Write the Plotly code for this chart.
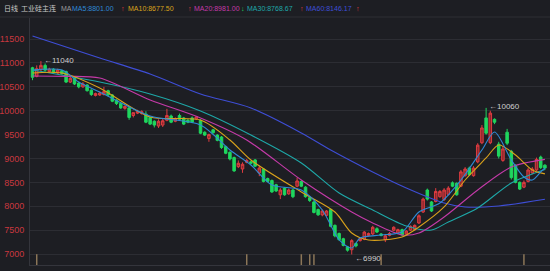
import plotly.graph_objects as go

# ---- candle data (daily, 工业硅主连) ----
opens = [10900,10720,10860,10950,10820,10870,10790,10840,10820,10600,10690,10580,10500,10540,10430,10320,10330,10340,10420,10330,
         10220,10150,10050,10060,9900,9950,9940,9930,9860,9780,9680,9700,9800,9890,9780,9900,9850,9800,9850,9830,
         9800,9550,9420,9600,9490,9450,9250,9130,9020,8830,8780,8920,8930,8970,8700,8780,8580,8540,8450,8240,
         8380,8260,8340,8420,8520,8400,8180,8090,7930,7820,7810,7930,7600,7430,7320,7150,7090,7220,7280,7310,
         7390,7420,7530,7420,7300,7390,7500,7440,7510,7420,7500,7510,7650,7880,8340,8090,8100,8200,8140,8250,
         8490,8480,8420,8640,8800,8640,8930,9330,9850,9330,9820,9300,8960,9550,9150,8850,8500,8400,8520,8700,
         8760,9030,8860]
closes = [10700,10880,10950,10850,10870,10800,10850,10780,10600,10680,10560,10500,10560,10420,10340,10360,10370,10400,10330,10200,
          10150,10060,10090,9860,9960,9990,9980,9760,9720,9700,9780,9790,9900,9760,9830,9820,9720,9760,9760,9870,
          9530,9490,9500,9540,9380,9230,9110,8990,8740,8900,8880,8960,8900,8840,8800,8520,8520,8300,8320,8340,
          8240,8340,8200,8530,8420,8200,8120,7870,7820,7900,7900,7580,7380,7300,7180,7080,7280,7170,7320,7460,
          7430,7560,7460,7390,7380,7430,7560,7510,7400,7480,7580,7600,7800,8150,8150,7900,8310,8310,8340,8380,
          8420,8240,8720,8780,8660,8800,9280,9640,9530,9950,9760,9050,9200,9320,8600,8500,8360,8500,8760,8780,
          8980,8810,8800]
highs = [10920,10950,11040,10990,10900,10890,10880,10860,10840,10720,10720,10610,10600,10560,10450,10380,10400,10500,10440,10350,
         10240,10180,10110,10080,9960,10020,10010,9990,9880,9800,9820,9830,10040,9920,9860,9940,9870,9830,9880,9890,
         9820,9570,9520,9620,9510,9470,9270,9150,9040,8960,8920,8990,8950,8990,8840,8800,8600,8560,8470,8380,
         8400,8370,8360,8600,8540,8420,8200,8110,7950,7930,7920,7950,7620,7450,7340,7170,7310,7240,7340,7480,
         7450,7590,7560,7440,7420,7460,7580,7530,7530,7500,7600,7620,7830,8180,8370,8110,8380,8340,8380,8420,
         8520,8500,8760,8820,8830,8840,9320,9700,10060,10000,9840,9350,9260,9620,9180,8880,8520,8540,8800,8820,
         9020,9060,8880]
lows = [10640,10700,10830,10820,10790,10770,10770,10750,10580,10580,10540,10470,10480,10400,10310,10300,10310,10320,10300,10180,
        10120,10040,10020,9810,9860,9930,9920,9740,9700,9650,9640,9660,9780,9740,9760,9790,9700,9740,9740,9810,
        9510,9470,9350,9520,9360,9200,9090,8960,8720,8800,8700,8900,8880,8820,8630,8500,8500,8280,8300,8150,
        8220,8240,8170,8400,8400,8180,8090,7850,7800,7790,7790,7560,7350,7280,7160,7050,6990,7140,7260,7290,
        7370,7400,7440,7370,7250,7370,7480,7420,7380,7400,7480,7490,7630,7860,8120,7880,8080,8180,8110,8230,
        8400,8220,8400,8620,8640,8620,8900,9300,9500,9300,9720,9000,8930,9280,8560,8480,8340,8380,8500,8670,
        8740,8780,8760]
days = list(range(len(closes)))

# ---- moving averages (sampled at candle indices) ----
ma5_idx = [0,7,11,16,28,40,47,52,57,64,69,73,76,78,83,88,92,97,102,107,110,114,117,119,121,122]
ma5_val = [10853,10853,10602,10393,9890,9702,9178,8864,8445,8341,7922,7294,7126,7336,7398,7461,7880,8069,8550,9178,9555,8969,8613,8550,8718,8801]
ma10_idx = [0,7,16,28,40,47,52,64,72,76,80,88,92,98,103,108,111,115,119,122]
ma10_val = [10791,10791,10477,9870,9806,9388,8969,8299,7880,7440,7294,7356,7566,7985,8550,9011,9283,9074,8759,8677.5]
ma20_idx = [0,8,16,28,40,51,64,76,81,88,92,98,106,114,122]
ma20_val = [10728,10720,10686,10225,9848,9388,8550,7880,7650,7398,7440,7775,8341,8822,8981]
ma30_idx = [0,16,28,40,52,64,73,81,89,95,99,106,114,122]
ma30_val = [10853,10602,10351,9995,9492,8906,8278,7922,7587,7503,7671,7964,8487,8768.67]
ma60_idx = [0,16,28,40,52,64,71,81,89,98,103,111,122]
ma60_val = [11565,11105,10770,10351,10058,9534,9178,8718,8383,8068,7985,8006,8146.17]

event_idx = [1, 51, 64, 66, 67, 83, 117]

y_ticks = [7000, 7500, 8000, 8500, 9000, 9500, 10000, 10500, 11000, 11500]

BG = "#1d1e23"
GRID = "#2c2d33"
RED = "#e03c40"
GREEN = "#1fd65e"
C5, C10, C20, C30, C60 = "#2f8ad6", "#d9a21b", "#c43aa8", "#1ea8a8", "#3e4ed6"

fig = go.Figure()
fig.add_trace(go.Candlestick(
    x=days, open=opens, high=highs, low=lows, close=closes,
    increasing=dict(line=dict(color=RED, width=1), fillcolor="#8a282d"),
    decreasing=dict(line=dict(color=GREEN, width=1), fillcolor=GREEN),
    whiskerwidth=0, showlegend=False, hoverinfo="skip"))

for idx, val, col in [(ma60_idx, ma60_val, C60), (ma30_idx, ma30_val, C30), (ma20_idx, ma20_val, C20),
                      (ma10_idx, ma10_val, C10), (ma5_idx, ma5_val, C5)]:
    fig.add_trace(go.Scatter(x=idx, y=val, mode="lines", line=dict(color=col, width=1.1, shape="spline", smoothing=0.8),
                             showlegend=False, hoverinfo="skip"))

EVENT_Y = 6864
fig.add_trace(go.Scatter(x=event_idx, y=[EVENT_Y]*len(event_idx), mode="markers",
                         marker=dict(symbol="line-ns", size=9, line=dict(color="#8c7658", width=1.5)),
                         showlegend=False, hoverinfo="skip"))

# high / low labels
hi_i = highs.index(max(highs))
lo_i = lows.index(min(lows))
peak2 = 108
ann = []
for i, v, ys in [(hi_i, highs[hi_i], 1), (peak2, highs[peak2], 1), (lo_i, lows[lo_i], -4)]:
    ann.append(dict(x=i, y=v, xref="x", yref="y", text="←" + str(v), showarrow=False, xanchor="left",
                    yanchor="middle", xshift=1, yshift=ys, font=dict(size=8, color="#cfcfcf", family="Liberation Sans")))

# header
def px(xp):
    return (xp - 30) / 520.0
HY = (265 - 8) / 247.0
header = [(2, "日线", "#c8c8c8"), (19, "工业硅主连", "#c8c8c8"), (59, "MA", "#9a9a9a"),
          (70, "MA5:8801.00", C5), (119, "↑", RED), (126, "MA10:8677.50", C10), (186, "↑", RED),
          (192, "MA20:8981.00", C20), (239, "↓", GREEN), (245, "MA30:8768.67", C30), (298, "↑", RED),
          (304, "MA60:8146.17", C60), (354, "↑", RED)]
for xp, t, c in header:
    ann.append(dict(x=px(xp), y=HY, xref="paper", yref="paper", text=t, showarrow=False, xanchor="left",
                    yanchor="middle", xshift=0,
                    font=dict(size=7, color=c, family="Liberation Sans, Noto Sans CJK SC")))

fig.update_layout(
    width=550, height=271, margin=dict(l=30, r=0, t=18, b=6),
    paper_bgcolor=BG, plot_bgcolor=BG,
    boxgap=0.15,
    annotations=ann,
    shapes=[dict(type="line", xref="paper", yref="paper", x0=-30/520, x1=1, y0=(265-17)/247, y1=(265-17)/247,
                 line=dict(color="#2e2f35", width=1))],
    xaxis=dict(range=[-0.6, -0.6 + 520/4.2], showgrid=False, showticklabels=False, zeroline=False,
               showline=True, linecolor="#34353c", linewidth=1, rangeslider=dict(visible=False), fixedrange=True),
    yaxis=dict(range=[6770, 11942], tickvals=y_ticks, ticktext=[str(t) for t in y_ticks], showgrid=True,
               gridcolor=GRID, gridwidth=1, zeroline=False, showline=True, linecolor="#34353c", linewidth=1,
               tickfont=dict(size=9, color="#c9383f", family="Liberation Sans"), ticks="", ticklabelstandoff=3),
)
fig.write_html("out.html")
